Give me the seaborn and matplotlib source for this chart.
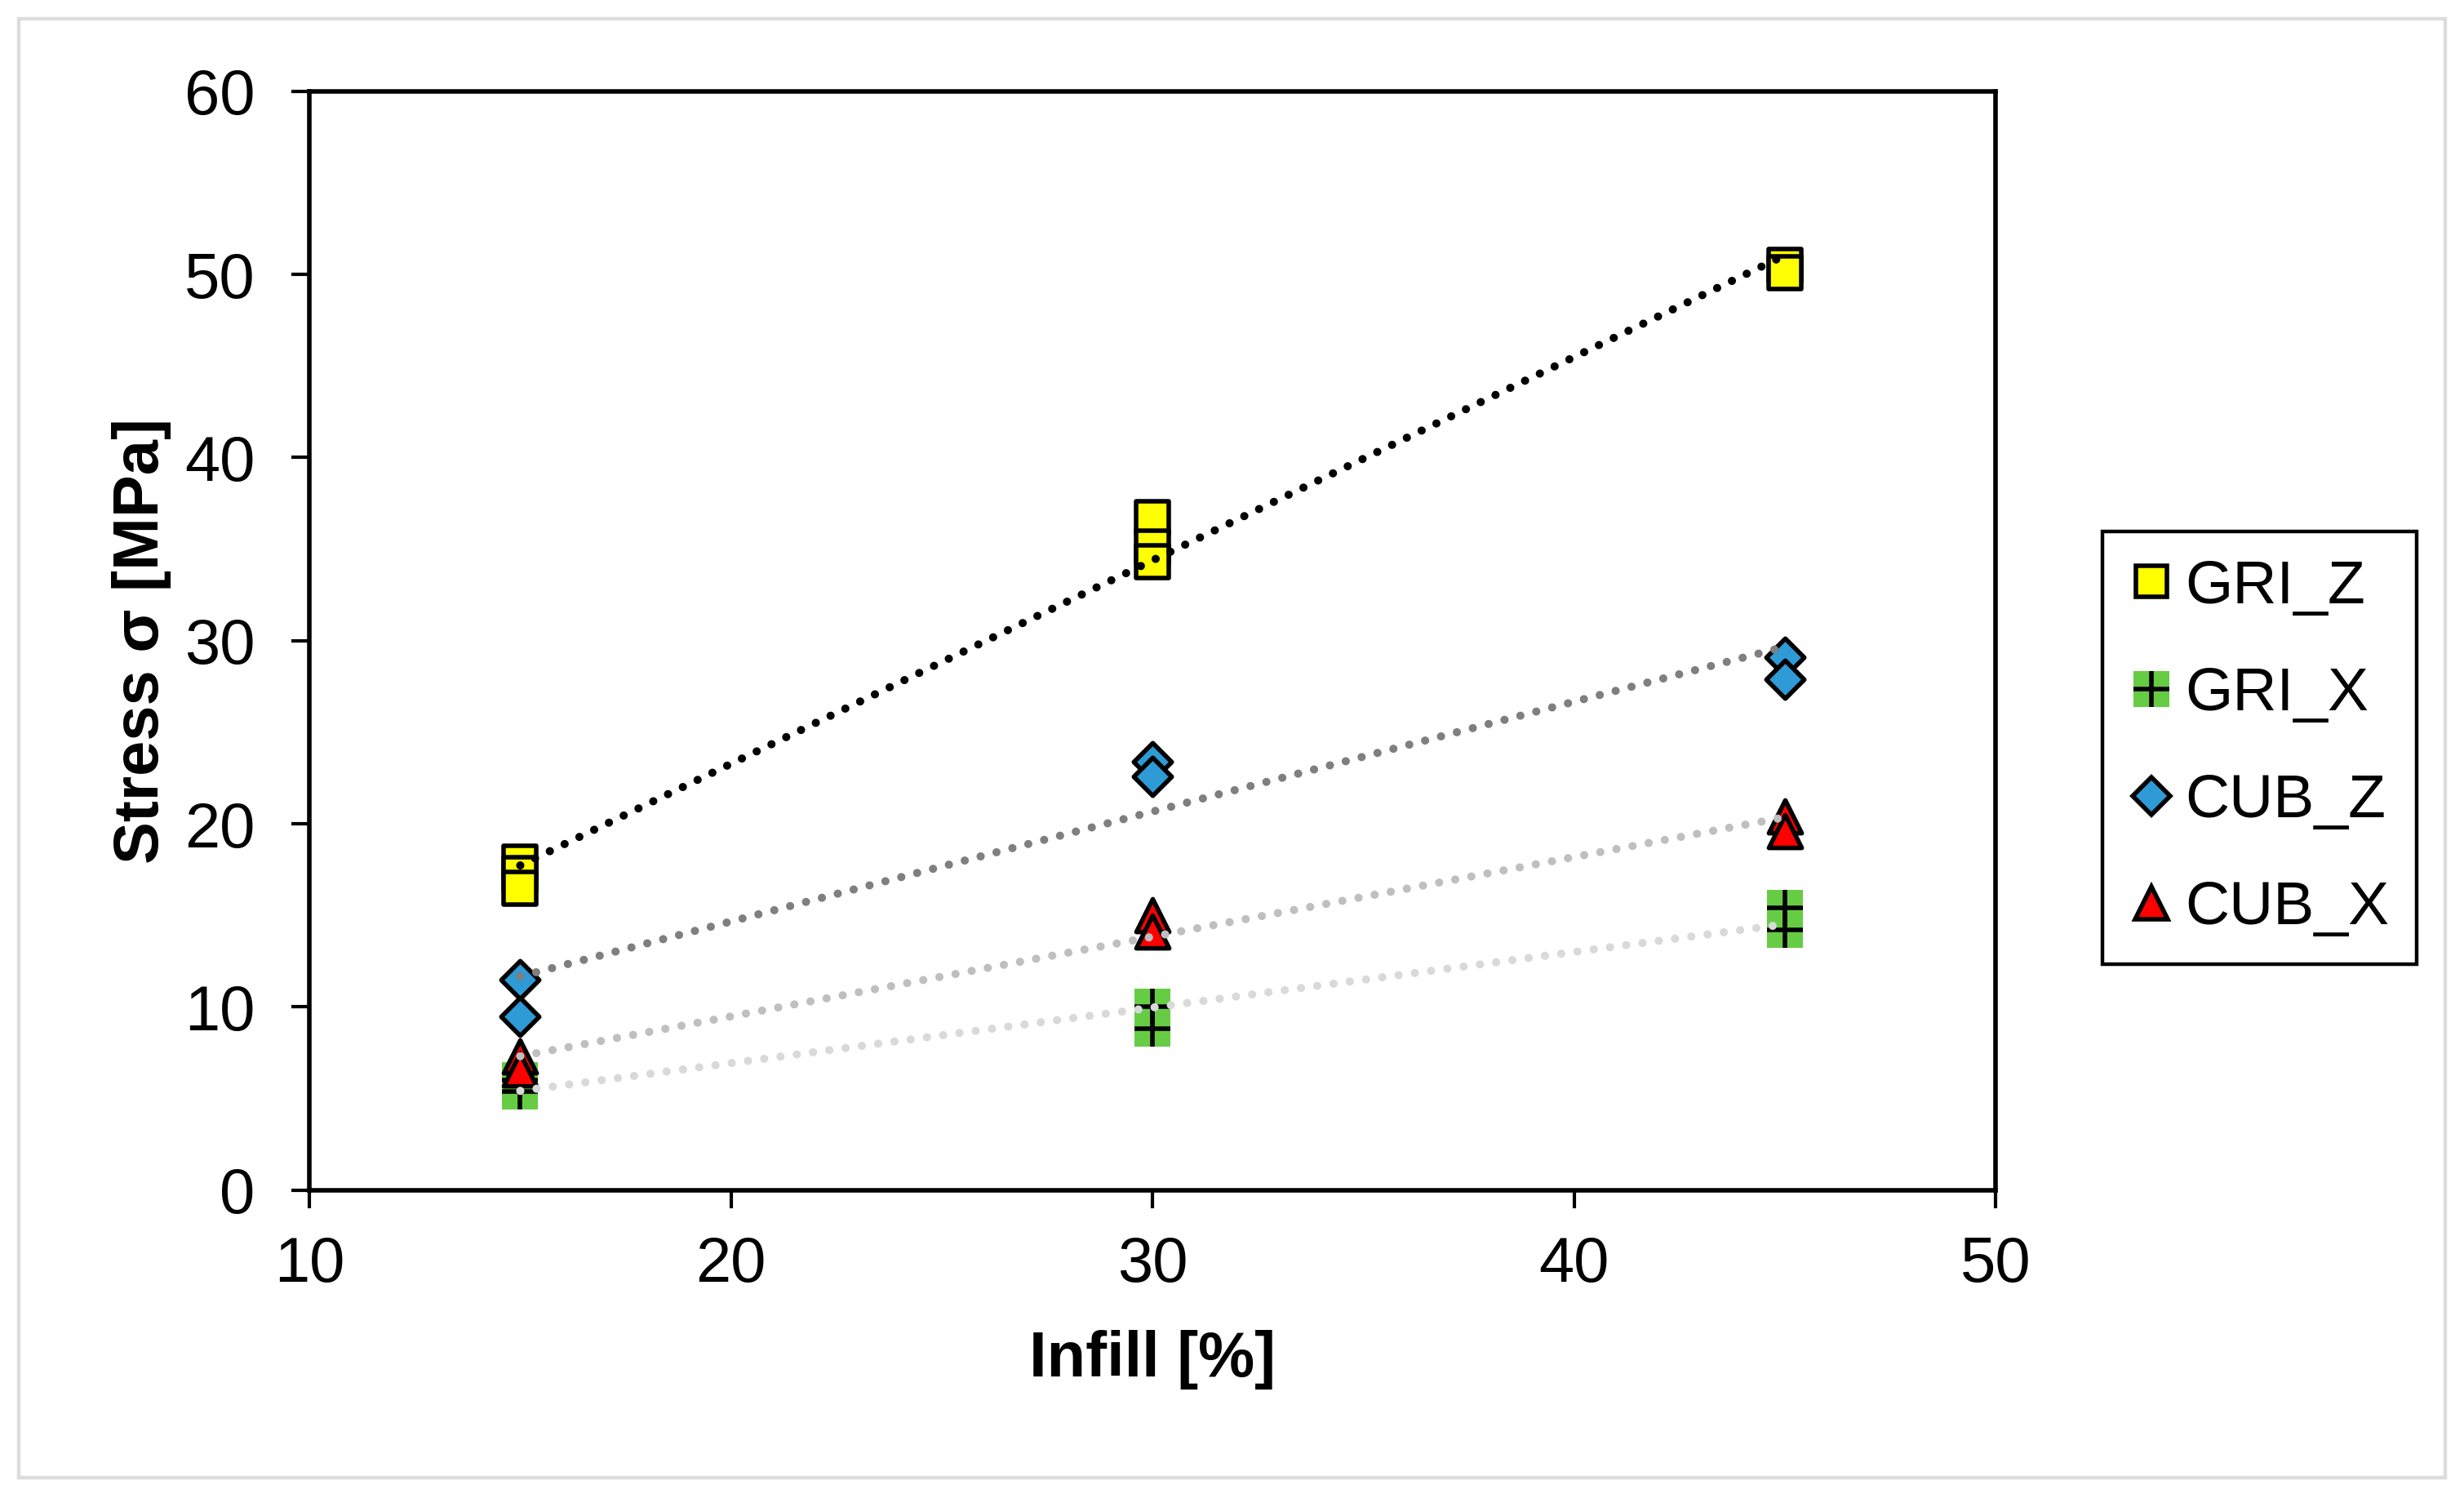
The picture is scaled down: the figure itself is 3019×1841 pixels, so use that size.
import numpy as np
import pandas as pd
import matplotlib
matplotlib.use("Agg")
import matplotlib.pyplot as plt
from matplotlib.lines import Line2D
from matplotlib.patches import Rectangle
from matplotlib.legend_handler import HandlerTuple
import seaborn as sns

# Data (replicates per infill level)
infill_gri_z = [15, 15, 15, 30, 30, 30, 45, 45]
stress_gri_z = [17.9, 17.3, 16.5, 36.7, 35.1, 34.3, 50.5, 50.1]

infill_gri_x = [15, 15, 30, 30, 45, 45]
stress_gri_x = [6.0, 5.4, 10.0, 8.8, 15.4, 14.2]

infill_cub_z = [15, 15, 30, 30, 45, 45]
stress_cub_z = [11.5, 9.5, 23.4, 22.6, 29.1, 27.9]

infill_cub_x = [15, 15, 30, 30, 45, 45]
stress_cub_x = [7.3, 6.6, 15.0, 14.1, 20.4, 19.6]

series_names = ["GRI_Z", "GRI_X", "CUB_Z", "CUB_X"]
x_ticks = [10, 20, 30, 40, 50]
y_ticks = [0, 10, 20, 30, 40, 50, 60]


def build_frame():
    parts = []
    for name, xs, ys in zip(series_names,
                            [infill_gri_z, infill_gri_x, infill_cub_z, infill_cub_x],
                            [stress_gri_z, stress_gri_x, stress_cub_z, stress_cub_x]):
        parts.append(pd.DataFrame({"Infill": xs, "Stress": ys, "Series": name}))
    return pd.concat(parts, ignore_index=True)


def main():
    df = build_frame()
    sns.set_style("white")
    plt.rcParams["font.family"] = ["Liberation Sans", "DejaVu Sans"]

    fig = plt.figure(figsize=(15.095, 9.205), dpi=200)
    ax = fig.add_axes([0.1256, 0.2082, 0.8099 - 0.1256, 0.9393 - 0.2082])

    styles = {
        "GRI_Z": dict(marker="s", color="#FFFF00", s=200, edgecolor="black", linewidth=2.0),
        "CUB_Z": dict(marker="D", color="#2E9AD6", s=140, edgecolor="black", linewidth=2.0),
        "CUB_X": dict(marker="^", color="#FF0000", s=210, edgecolor="black", linewidth=2.0),
    }
    trend_colors = {"GRI_Z": "black", "GRI_X": "#d9d9d9", "CUB_Z": "#7f7f7f", "CUB_X": "#bfbfbf"}

    for name in series_names:
        sub = df[df["Series"] == name]
        if name == "GRI_X":
            sns.scatterplot(data=sub, x="Infill", y="Stress", marker="s", color="#66CC44",
                            s=260, linewidth=0, ax=ax, zorder=2)
            sns.scatterplot(data=sub, x="Infill", y="Stress", marker="+", color="black",
                            s=260, linewidth=2.0, ax=ax, zorder=2)
        else:
            sns.scatterplot(data=sub, x="Infill", y="Stress", ax=ax, zorder=2, **styles[name])

    # Linear trendlines, dotted, drawn on top of the markers
    for name in ["GRI_X", "CUB_X", "CUB_Z", "GRI_Z"]:
        sub = df[df["Series"] == name]
        sns.regplot(data=sub, x="Infill", y="Stress", scatter=False, ci=None, ax=ax,
                    line_kws=dict(color=trend_colors[name], linewidth=3.6,
                                  linestyle=(0, (0.01, 2.0)), dash_capstyle="round", zorder=3))

    ax.set_xlim(10, 50)
    ax.set_ylim(0, 60)
    ax.set_xticks(x_ticks)
    ax.set_yticks(y_ticks)
    ax.tick_params(axis="both", which="major", direction="out", length=8, width=1.5,
                   labelsize=28, color="black", labelcolor="black", bottom=True, left=True)
    ax.tick_params(axis="y", pad=16)
    ax.tick_params(axis="x", pad=12)
    for sp in ax.spines.values():
        sp.set_color("black")
        sp.set_linewidth(2.0)

    ax.set_xlabel("Infill [%]", fontsize=28, fontweight="bold", color="black")
    ax.set_ylabel("Stress σ [MPa]", fontsize=28, fontweight="bold", color="black")
    ax.xaxis.set_label_coords(0.5, -0.127)
    ax.yaxis.set_label_coords(-0.082, 0.5)

    # Legend with marker-only handles
    h_gri_z = Line2D([], [], linestyle="none", marker="s", markersize=14, markerfacecolor="#FFFF00",
                     markeredgecolor="black", markeredgewidth=2.0)
    h_gri_x_bg = Line2D([], [], linestyle="none", marker="s", markersize=15.5, markerfacecolor="#66CC44",
                        markeredgewidth=0)
    h_gri_x_plus = Line2D([], [], linestyle="none", marker="+", markersize=15.5, color="black",
                          markeredgewidth=2.0)
    h_cub_z = Line2D([], [], linestyle="none", marker="D", markersize=11.5, markerfacecolor="#2E9AD6",
                     markeredgecolor="black", markeredgewidth=2.0)
    h_cub_x = Line2D([], [], linestyle="none", marker="^", markersize=14.5, markerfacecolor="#FF0000",
                     markeredgecolor="black", markeredgewidth=2.0)
    leg = fig.legend([h_gri_z, (h_gri_x_bg, h_gri_x_plus), h_cub_z, h_cub_x], series_names,
                     handler_map={tuple: HandlerTuple(ndivide=1, pad=0)},
                     loc="upper left", bbox_to_anchor=(0.8533, 0.6464), fontsize=27,
                     frameon=True, fancybox=False, edgecolor="black", framealpha=1,
                     handlelength=0.7, handletextpad=0.2, labelspacing=0.83,
                     borderpad=0.45, borderaxespad=0)
    leg.get_frame().set_linewidth(1.6)
    for t in leg.get_texts():
        t.set_color("black")

    # Light grey outer frame around the figure
    fig.patches.append(Rectangle((0.0077, 0.0167), 0.9847, 0.9707, transform=fig.transFigure,
                                 fill=False, edgecolor="#dcdcdc", linewidth=1.6))

    fig.savefig("out.png", dpi=200, facecolor="white")


if __name__ == "__main__":
    main()
